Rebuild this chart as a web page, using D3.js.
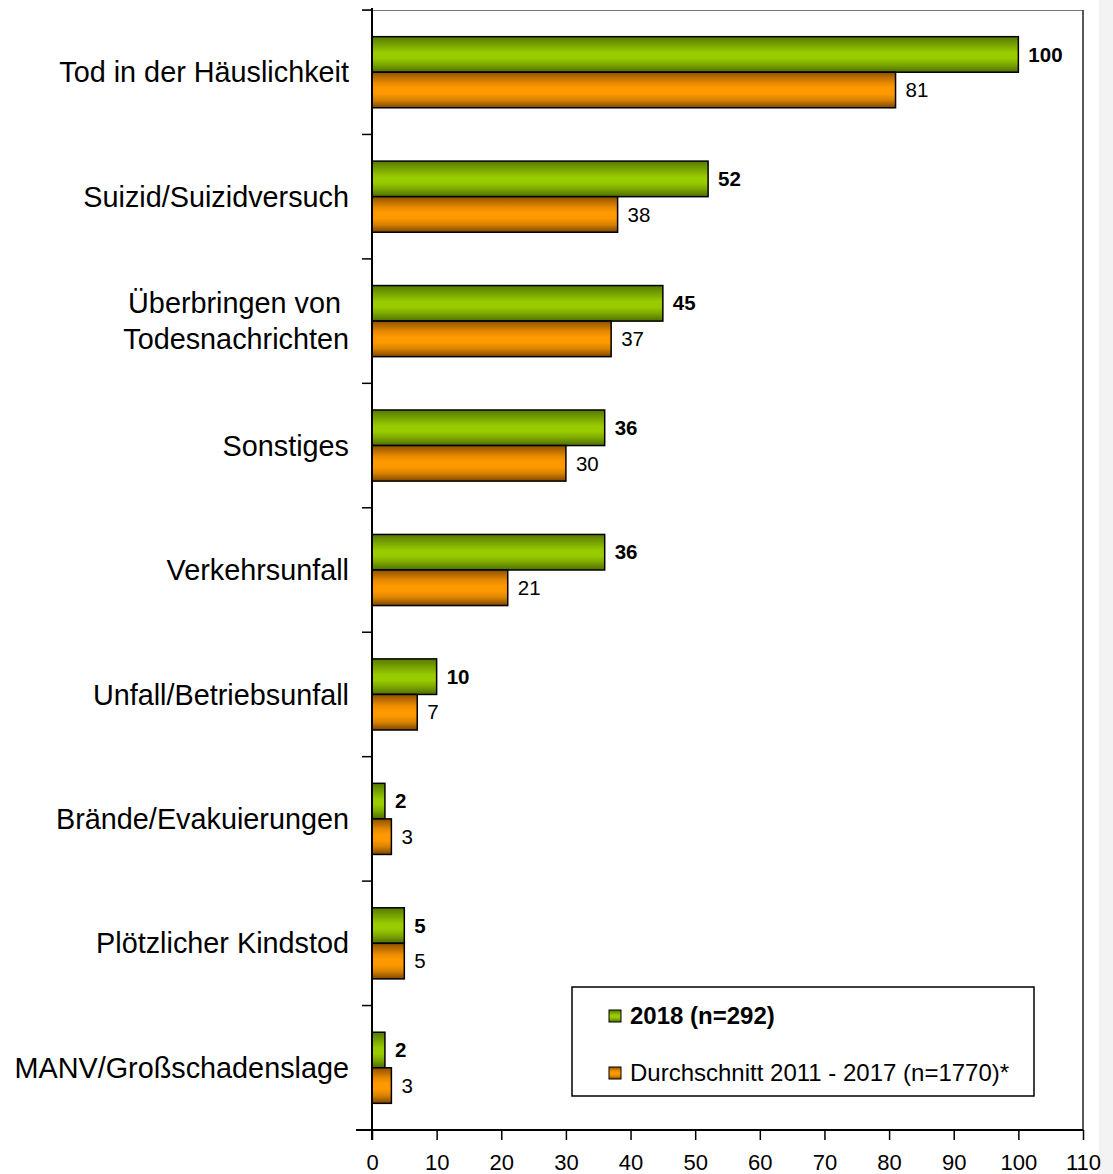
<!DOCTYPE html>
<html>
<head>
<meta charset="utf-8">
<script src="https://cdn.jsdelivr.net/npm/d3@7"></script>
<style>
  body { margin: 0; background: #fff; }
  text { font-family: "Liberation Sans", Arial, sans-serif; }
</style>
</head>
<body>
<div id="root"></div>
<script>
// data
var categories = ["Tod in der Häuslichkeit", "Suizid/Suizidversuch", "Überbringen von Todesnachrichten",
                  "Sonstiges", "Verkehrsunfall", "Unfall/Betriebsunfall", "Brände/Evakuierungen",
                  "Plötzlicher Kindstod", "MANV/Großschadenslage"]
var labelLines = [["Tod in der Häuslichkeit"], ["Suizid/Suizidversuch"], ["Überbringen von ", "Todesnachrichten"],
                  ["Sonstiges"], ["Verkehrsunfall"], ["Unfall/Betriebsunfall"], ["Brände/Evakuierungen"],
                  ["Plötzlicher Kindstod"], ["MANV/Großschadenslage"]]
var values2018 = [100, 52, 45, 36, 36, 10, 2, 5, 2]
var valuesAvg = [81, 38, 37, 30, 21, 7, 3, 5, 3]
var seriesNames = ["2018 (n=292)", "Durchschnitt 2011 - 2017 (n=1770)*"]
var xTicks = [0, 10, 20, 30, 40, 50, 60, 70, 80, 90, 100, 110]

// dimensions
var W = 1113, H = 1174
var margin = {top: 10, right: 29, bottom: 44, left: 372}

var svg = d3.select("#root")
            .append("svg")
            .attr("width", W)
            .attr("height", H)

// gradients for the bars
var defs = svg.append("defs")
var gradients = [
  {id: "gGreen", stops: ["#557a00", "#83b000", "#99cc00", "#99cc00", "#7ea800", "#4d6e00"]},
  {id: "gOrange", stops: ["#8f5000", "#e88a00", "#ff9900", "#ff9900", "#d98200", "#7e4600"]}
]
gradients.forEach(function(g) {
  var lg = defs.append("linearGradient").attr("id", g.id)
               .attr("x1", 0).attr("x2", 0).attr("y1", 0).attr("y2", 1)
  var offs = [0, 0.3, 0.45, 0.6, 0.78, 1]
  g.stops.forEach(function(c, i) {
    lg.append("stop").attr("offset", offs[i]).attr("stop-color", c)
  })
})

// faint strip on the right edge
svg.append("rect")
   .attr("x", 1099).attr("y", 0)
   .attr("width", W - 1099).attr("height", H)
   .attr("fill", "#f3f3f3")

// scales
var x = d3.scaleLinear()
          .domain([0, 110])
          .range([margin.left, W - margin.right - 1])
var y = d3.scaleBand()
          .domain(categories)
          .range([margin.top, H - margin.bottom])
          .padding(0)
var ySub = d3.scaleBand()
             .domain(seriesNames)
             .range([0, y.bandwidth()])
             .paddingInner(0)
             .paddingOuter(0.75)

var y0 = margin.top, y1 = H - margin.bottom

// plot frame (top and right)
svg.append("line")
   .attr("x1", margin.left - 10).attr("x2", x(110))
   .attr("y1", y0 + 0.5).attr("y2", y0 + 0.5)
   .attr("stroke", "#777").attr("stroke-width", 1.2)
svg.append("line")
   .attr("x1", x(110)).attr("x2", x(110))
   .attr("y1", y0).attr("y2", y1)
   .attr("stroke", "#222").attr("stroke-width", 1.5)

// bars
var rows = categories.map(function(c, i) {
  return {cat: c, lines: labelLines[i], v: [values2018[i], valuesAvg[i]]}
})
var fills = ["url(#gGreen)", "url(#gOrange)"]

var groups = svg.selectAll("g.row")
  .data(rows)
  .enter()
  .append("g")
    .attr("class", "row")
    .attr("transform", function(d){ return "translate(0," + y(d.cat) + ")" })

seriesNames.forEach(function(s, si) {
  groups.append("rect")
    .attr("x", x(0))
    .attr("y", ySub(s))
    .attr("width", function(d){ return x(d.v[si]) - x(0) })
    .attr("height", ySub.bandwidth())
    .attr("fill", fills[si])
    .attr("stroke", "#000")
    .attr("stroke-width", 1.5)

  groups.append("text")
    .attr("x", function(d){ return x(d.v[si]) + 10 })
    .attr("y", ySub(s) + ySub.bandwidth() / 2)
    .attr("dy", "0.35em")
    .attr("font-size", 20.5)
    .attr("font-weight", si == 0 ? "bold" : "normal")
    .attr("fill", "#000")
    .text(function(d){ return d.v[si] })
})

// category labels
groups.append("text")
  .attr("x", margin.left - 23)
  .attr("y", y.bandwidth() / 2)
  .attr("text-anchor", "end")
  .attr("font-size", 28.8)
  .attr("fill", "#000")
  .each(function(d) {
    var t = d3.select(this)
    var n = d.lines.length
    d.lines.forEach(function(l, i) {
      t.append("tspan")
       .attr("x", margin.left - 23)
       .attr("y", y.bandwidth() / 2 + (i - (n - 1) / 2) * 36)
       .attr("dy", "0.35em")
       .style("white-space", "pre")
       .text(l)
    })
  })

// left axis with ticks at band edges
var edges = categories.map(function(c){ return y(c) }).concat([y1])
svg.selectAll("line.ltick")
  .data(edges)
  .enter()
  .append("line")
    .attr("x1", margin.left - 10).attr("x2", margin.left)
    .attr("y1", function(d){ return d }).attr("y2", function(d){ return d })
    .attr("stroke", "#000").attr("stroke-width", 1.5)
svg.append("line")
   .attr("x1", margin.left).attr("x2", margin.left)
   .attr("y1", y0 - 2).attr("y2", y1 + 10)
   .attr("stroke", "#000").attr("stroke-width", 2)

// bottom axis
var xAxis = svg.append("g")
   .attr("transform", "translate(0," + y1 + ")")
   .call(d3.axisBottom(x).tickValues(xTicks).tickSize(10).tickSizeOuter(0))
xAxis.select(".domain").remove()
xAxis.selectAll(".tick line").attr("stroke", "#000").attr("stroke-width", 1.5)
xAxis.selectAll(".tick text")
     .attr("font-size", 22)
     .attr("font-family", "Liberation Sans, Arial, sans-serif")
     .attr("fill", "#000")
     .attr("y", 24)
svg.append("line")
   .attr("x1", margin.left - 16).attr("x2", x(110))
   .attr("y1", y1).attr("y2", y1)
   .attr("stroke", "#000").attr("stroke-width", 2)

// legend
var legend = svg.append("g").attr("transform", "translate(572,987)")
legend.append("rect")
  .attr("x", 0).attr("y", 0)
  .attr("width", 462).attr("height", 109)
  .attr("fill", "#fff")
  .attr("stroke", "#000").attr("stroke-width", 1.5)
seriesNames.forEach(function(s, i) {
  var ly = 29 + i * 57
  legend.append("rect")
    .attr("x", 37).attr("y", ly - 6)
    .attr("width", 12).attr("height", 12)
    .attr("fill", fills[i])
    .attr("stroke", "#000").attr("stroke-width", 1)
  legend.append("text")
    .attr("x", 58).attr("y", ly)
    .attr("dy", "0.35em")
    .attr("font-size", 24)
    .attr("font-weight", i == 0 ? "bold" : "normal")
    .attr("fill", "#000")
    .text(s)
})
</script>
</body>
</html>
